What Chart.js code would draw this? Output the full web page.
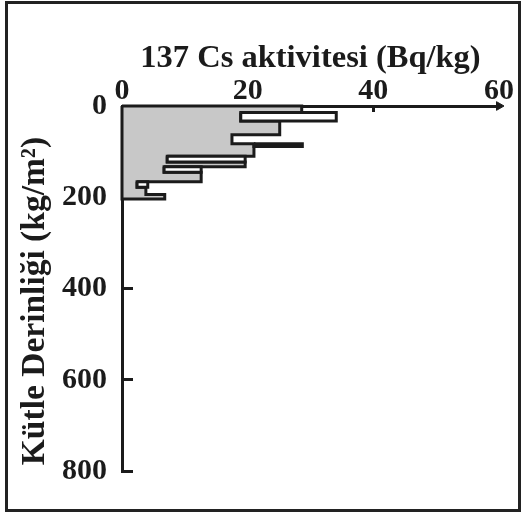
<!DOCTYPE html>
<html><head><meta charset="utf-8">
<script src="https://cdn.jsdelivr.net/npm/chart.js@4.4.1/dist/chart.umd.min.js"></script>
<style>
html,body{margin:0;padding:0;background:#fff;}
#wrap{position:relative;width:525px;height:515px;overflow:hidden;}
#frame{position:absolute;left:5px;top:1px;width:516px;height:511px;box-sizing:border-box;border:3px solid #222;pointer-events:none;}
canvas{position:absolute;left:0;top:0;}
</style></head><body>
<div id="wrap"><canvas id="c" width="525" height="515"></canvas><div id="frame"></div></div>
<script>
// Layer boundaries (mass depth, kg/m2) and 137Cs activity per layer (Bq/kg)
const depthBounds = [0, 14, 33, 63, 83, 89, 110, 123, 133, 145, 166, 178, 194, 204];
const activity    = [28.6, 34.1, 25.1, 17.5, 28.7, 21.0, 19.6, 19.6, 12.6, 12.6, 4.1, 3.8, 6.8];
const greyExtent  = [28.6, 18.9, 25.1, 17.5, 21.0, 21.0, 7.2, 19.6, 6.7, 12.6, 2.4, 3.8, 6.8];
const xTicks = [0, 20, 40, 60];
const yTicks = [0, 200, 400, 600, 800];
const titleText = '137 Cs aktivitesi (Bq/kg)';
const yTitleText = 'Kütle Derinliği (kg/m²)';

const INK = '#1b1b1b';
const GREY = '#c8c8c8';
const FAMILY = "'Liberation Serif', 'Times New Roman', serif";

// grey filled step profile
const greyPts = [{x: 0, y: depthBounds[0]}];
greyExtent.forEach((g, i) => {
  greyPts.push({x: g, y: depthBounds[i]});
  greyPts.push({x: g, y: depthBounds[i + 1]});
});
greyPts.push({x: 0, y: depthBounds[depthBounds.length - 1]});
greyPts.push({x: 0, y: depthBounds[0]});

const datasets = [{
  data: greyPts, showLine: true, fill: 'shape', backgroundColor: GREY,
  borderColor: INK, borderWidth: 3, pointRadius: 0, clip: false, order: 3,
  borderJoinStyle: 'miter'
}];

// white (unfilled) parts of layers whose activity exceeds the grey area
activity.forEach((a, i) => {
  const g = greyExtent[i];
  if (a > g) {
    const t = depthBounds[i], b = depthBounds[i + 1];
    datasets.push({
      data: [{x: g, y: t}, {x: a, y: t}, {x: a, y: b}, {x: g, y: b}, {x: g, y: t}],
      showLine: true, fill: 'shape', backgroundColor: '#ffffff',
      borderColor: INK, borderWidth: 3, pointRadius: 0, clip: false, order: 2,
      borderJoinStyle: 'miter'
    });
  }
});

// arrow head at the end of the top axis
datasets.push({
  data: [{x: xTicks[xTicks.length - 1], y: yTicks[0]}], showLine: false,
  pointStyle: 'triangle', rotation: 90, pointRadius: 5,
  backgroundColor: INK, borderColor: INK, borderWidth: 1, clip: false, order: 1
});

new Chart(document.getElementById('c'), {
  type: 'scatter',
  data: { datasets },
  options: {
    responsive: false, animation: false, devicePixelRatio: 1,
    layout: { padding: { left: 6, top: 0, right: 26, bottom: 35 } },
    plugins: {
      legend: { display: false }, tooltip: { enabled: false },
      title: {
        display: true, text: titleText, fullSize: false, color: INK,
        font: { family: FAMILY, size: 32.5, weight: 'bold', lineHeight: 1.2 },
        padding: { top: 39.5, bottom: 0 }
      }
    },
    scales: {
      x: {
        type: 'linear', position: 'top', min: xTicks[0], max: xTicks[xTicks.length - 1],
        afterBuildTicks: s => { s.ticks = xTicks.map(v => ({ value: v })); },
        afterFit: s => { s.height = 27.5; },
        border: { display: true, color: INK, width: 3 },
        grid: {
          drawOnChartArea: false, drawTicks: true, tickLength: -6, tickWidth: 3,
          tickColor: c => (c.tick && c.tick.value === 40) ? INK : 'rgba(0,0,0,0)'
        },
        ticks: { color: INK, padding: 3, maxRotation: 0, autoSkip: false,
          font: { family: FAMILY, size: 30, weight: 'bold', lineHeight: 1.2 } }
      },
      y: {
        type: 'linear', position: 'left', reverse: true, min: yTicks[0], max: yTicks[yTicks.length - 1],
        afterBuildTicks: s => { s.ticks = yTicks.map(v => ({ value: v })); },
        afterFit: s => { s.width = 116; },
        border: { display: true, color: INK, width: 3 },
        grid: {
          drawOnChartArea: false, drawTicks: true, tickLength: -11, tickWidth: 3,
          tickColor: c => (c.tick && c.tick.value >= 400) ? INK : 'rgba(0,0,0,0)'
        },
        ticks: { color: INK, padding: 26, autoSkip: false,
          font: { family: FAMILY, size: 30, weight: 'bold', lineHeight: 1.2 } },
        title: { display: true, text: yTitleText + '\u00a0\u00a0\u00a0', color: INK, align: 'center',
          padding: { top: 8.9, bottom: 0 },
          font: { family: FAMILY, size: 33.5, weight: 'bold', lineHeight: 1.2 } }
      }
    }
  }
});
</script>
</body></html>
